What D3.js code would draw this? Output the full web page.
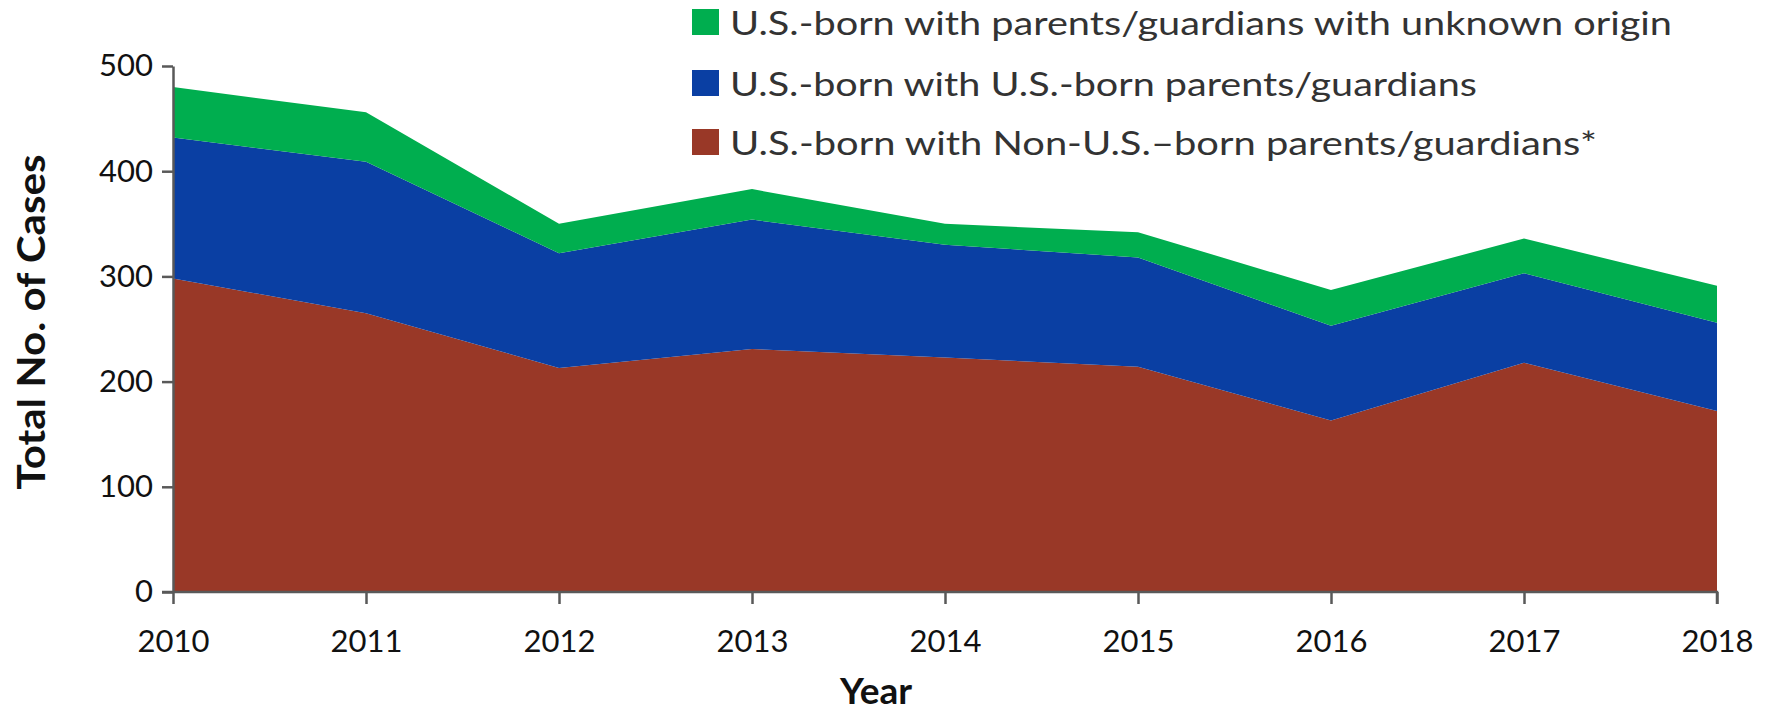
<!DOCTYPE html>
<html>

<head>
  <meta charset="utf-8">
  <script src="https://d3js.org/d3.v7.min.js"></script>
  <style>
    body {
      margin: 0;
      background: #fff;
      font-family: Lato, "Open Sans", sans-serif;
    }

    .tick text {
      fill: #111;
    }
  </style>
</head>

<body>
  <div id="chart"></div>
  <script>
    var years = [2010, 2011, 2012, 2013, 2014, 2015, 2016, 2017, 2018];
    var nonUsBornParents = [298, 265, 213, 231, 223, 214, 163, 218, 172];
    var usBornParents = [134, 144, 109, 123, 107, 104, 90, 85, 84];
    var unknownOrigin = [48, 47, 28, 29, 20, 24, 34, 33, 35];
    var yTicks = [0, 100, 200, 300, 400, 500];

    var seriesNames = [
      "U.S.-born with Non-U.S.\u2013born  parents/guardians*",
      "U.S.-born with U.S.-born parents/guardians",
      "U.S.-born with parents/guardians with unknown origin"
    ];
    var colors = ["#993827", "#0a3fa3", "#00ae4f"];

    var width = 1777, height = 715;
    var margin = { left: 173, right: 60, top: 66, bottom: 123 };

    var rows = years.map((y, i) => ({
      year: y,
      a: nonUsBornParents[i],
      b: usBornParents[i],
      c: unknownOrigin[i]
    }));
    var keys = ["a", "b", "c"];

    var svg = d3.select("#chart").append("svg")
      .attr("width", width)
      .attr("height", height);

    var x = d3.scaleLinear()
      .domain([years[0], years[years.length - 1]])
      .range([margin.left, width - margin.right]);

    var y = d3.scaleLinear()
      .domain([0, 500])
      .range([height - margin.bottom, margin.top]);

    var stacked = d3.stack().keys(keys)(rows);

    var area = d3.area()
      .x(d => x(d.data.year))
      .y0(d => y(d[0]))
      .y1(d => y(d[1]));

    svg.append("g").selectAll("path")
      .data(stacked)
      .enter().append("path")
      .attr("d", area)
      .attr("fill", (d, i) => colors[i]);

    // axes
    var xAxis = svg.append("g")
      .attr("transform", "translate(0," + y(0) + ")")
      .call(d3.axisBottom(x).tickValues(years).tickFormat(d3.format("d")).tickSize(12).tickSizeOuter(12).tickPadding(26));

    var yAxis = svg.append("g")
      .attr("transform", "translate(" + margin.left + ",0)")
      .call(d3.axisLeft(y).tickValues(yTicks).tickSize(11).tickSizeOuter(0).tickPadding(9));

    [xAxis, yAxis].forEach(a => {
      a.selectAll("path, line").attr("stroke", "#595959").attr("stroke-width", 2.5);
      a.selectAll("text").style("font-size", "31px").style("font-family", "Lato, sans-serif");
    });
    xAxis.select(".domain").attr("d", "M" + (margin.left - 11) + ",0H" + (width - margin.right) + "V12");

    // axis titles
    svg.append("text")
      .attr("x", 876)
      .attr("y", 704)
      .attr("text-anchor", "middle")
      .style("font-size", "37px")
      .style("font-weight", "bold")
      .attr("fill", "#111")
      .text("Year");

    svg.append("text")
      .attr("transform", "translate(45,322) rotate(-90)")
      .attr("text-anchor", "middle")
      .attr("textLength", 335)
      .attr("lengthAdjust", "spacingAndGlyphs")
      .style("font-size", "38px")
      .style("font-weight", "bold")
      .attr("fill", "#111")
      .text("Total No. of Cases");

    // legend, top series first
    var legendWidths = [867, 747, 942];
    var legendBase = [155, 96, 35];
    var legend = svg.append("g").selectAll("g")
      .data(keys)
      .enter().append("g")
      .attr("transform", (d, i) => "translate(692," + legendBase[i] + ")");

    legend.append("rect")
      .attr("y", -26)
      .attr("width", 27)
      .attr("height", 26)
      .attr("fill", (d, i) => colors[i]);

    legend.append("text")
      .attr("x", 38)
      .attr("y", 0)
      .attr("textLength", (d, i) => legendWidths[i])
      .attr("lengthAdjust", "spacingAndGlyphs")
      .style("font-size", "32px")
      .attr("fill", "#333")
      .text((d, i) => seriesNames[i]);
  </script>
</body>

</html>
